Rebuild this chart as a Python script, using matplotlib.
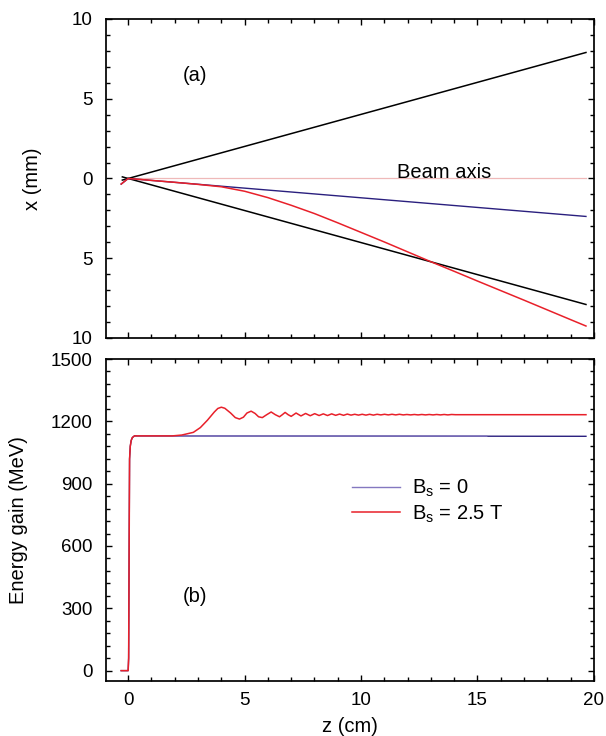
import matplotlib
matplotlib.use("Agg")
import matplotlib.pyplot as plt
from matplotlib.ticker import MultipleLocator

plt.rcParams['font.family'] = ['Liberation Sans', 'DejaVu Sans']
plt.rcParams['mathtext.fontset'] = 'custom'
plt.rcParams['mathtext.rm'] = 'Liberation Sans'
plt.rcParams['font.size'] = 14.5

# ---- panel (a): trajectories x(z) ----
z_black = [-0.25, 19.66]
x_black_up = [-0.10, 7.90]
x_black_dn = [0.10, -7.90]

z_blue_a = [-0.30, 0.0, 19.66]
x_blue_a = [-0.35, 0.0, -2.38]

z_red_a = [-0.30, 0.0, 1.0, 2.0, 3.0, 4.0, 5.0, 6.0, 7.0, 8.0, 9.0, 10.0,
           11.0, 12.0, 13.0, 14.0, 15.0, 16.0, 17.0, 18.0, 19.0, 19.66]
x_red_a = [-0.35, 0.0, -0.12, -0.24, -0.37, -0.52, -0.80, -1.20, -1.68, -2.20,
           -2.78, -3.38, -3.98, -4.60, -5.22, -5.82, -6.43, -7.03, -7.63,
           -8.24, -8.85, -9.25]

z_axis = [0.0, 19.66]
x_axis = [0.0, 0.0]

x_ticks_a = [-10, -5, 0, 5, 10]
x_ticklabels_a = ['10', '5', '0', '5', '10']

# ---- panel (b): energy gain ----
z_blue_b = [-0.30, 0.0, 0.02, 0.04, 0.06, 0.09, 0.13, 0.18, 0.27, 0.40, 19.66]
E_blue_b = [0, 0, 60, 550, 1019, 1080, 1108, 1122, 1130, 1130, 1128]

# lighter trace lying on top of the Bs = 0 curve up to z ~ 15.4
z_lilac_b = [0.40, 15.40]
E_lilac_b = [1130, 1129]

z_red_b = [-0.30, 0.0, 0.02, 0.04, 0.06, 0.09, 0.13, 0.18, 0.27, 0.40,
           1.90, 2.30, 2.80, 3.10, 3.40, 3.70, 3.85, 4.00, 4.15, 4.40, 4.60,
           4.78, 4.95, 5.10, 5.28, 5.45, 5.60, 5.76, 5.95, 6.14, 6.32, 6.50,
           6.62, 6.74, 6.87, 7.00, 7.21, 7.42, 7.62, 7.82, 8.01, 8.20, 8.38,
           8.56, 8.74, 8.91, 9.08, 9.25, 9.41, 9.57, 9.73, 9.89, 10.05, 10.21,
           10.37, 10.53, 10.69, 10.85, 11.01, 11.17, 11.33, 11.49, 11.65,
           11.81, 11.97, 12.13, 12.29, 12.45, 12.61, 12.77, 12.93, 13.09,
           13.25, 13.41, 13.57, 13.73, 13.89, 14.05, 14.5, 19.66]
E_red_b = [0, 0, 60, 550, 1019, 1080, 1108, 1122, 1130, 1130,
           1130, 1134, 1147, 1170, 1205, 1245, 1262, 1268, 1263, 1240, 1218,
           1211, 1220, 1240, 1249, 1238, 1222, 1218, 1232, 1245, 1232, 1222,
           1232, 1243, 1232, 1224, 1240, 1226, 1238, 1227, 1237, 1228, 1236,
           1228, 1236, 1229, 1235, 1229, 1235, 1230, 1234, 1230, 1234, 1230,
           1234, 1230, 1234, 1231, 1234, 1231, 1234, 1231, 1234,
           1231, 1233, 1231, 1233, 1231, 1233, 1231, 1233, 1231,
           1233, 1231, 1233, 1231, 1233, 1232, 1232, 1232]

legend_labels = [r'B$_\mathregular{s}$ = 0', r'B$_\mathregular{s}$ = 2.5 T']

RED = '#e8202a'
NAVY = '#2a1f7e'
LILAC = '#8478c0'
PINK = '#efb9b9'

fig = plt.figure(figsize=(6.06, 7.36), dpi=100)
ax_a = fig.add_axes([0.175, 0.5408, 0.805, 0.4334])
ax_b = fig.add_axes([0.175, 0.0747, 0.805, 0.4375])

for ax in (ax_a, ax_b):
    ax.set_xlim(-0.95, 20)
    ax.xaxis.set_major_locator(MultipleLocator(5))
    ax.xaxis.set_minor_locator(MultipleLocator(1))
    ax.tick_params(which='both', direction='in', top=True, right=True,
                   width=1.0, labelsize=13.5)
    ax.tick_params(which='major', length=4.3)
    ax.tick_params(which='minor', length=2.9)
    ax.tick_params(axis='x', pad=8)
    ax.tick_params(axis='y', pad=9.5)
    for s in ax.spines.values():
        s.set_linewidth(1.25)

# panel (a)
ax_a.plot(z_axis, x_axis, color=PINK, lw=0.9)
ax_a.plot(z_black, x_black_up, color='black', lw=1.1)
ax_a.plot(z_black, x_black_dn, color='black', lw=1.1)
ax_a.plot(z_blue_a, x_blue_a, color=NAVY, lw=1.0)
ax_a.plot(z_red_a, x_red_a, color=RED, lw=1.1)
ax_a.set_ylim(-10, 10)
ax_a.set_yticks(x_ticks_a)
ax_a.set_yticklabels(x_ticklabels_a)
ax_a.yaxis.set_minor_locator(MultipleLocator(1))
ax_a.tick_params(labelbottom=False)
ax_a.set_ylabel('x (mm)')
ax_a.yaxis.set_label_coords(-0.131, 0.5)
ax_a.text(2.86, 6.44, '(a)', ha='center', va='center')
ax_a.text(13.55, 0.0, 'Beam axis', ha='center', va='baseline')

# panel (b)
ax_b.plot(z_blue_b, E_blue_b, color=NAVY, lw=1.0, label=legend_labels[0])
ax_b.plot(z_lilac_b, E_lilac_b, color=LILAC, lw=1.0)
ax_b.plot(z_red_b, E_red_b, color=RED, lw=1.1, label=legend_labels[1])
ax_b.set_ylim(-50, 1500)
ax_b.yaxis.set_major_locator(MultipleLocator(300))
ax_b.yaxis.set_minor_locator(MultipleLocator(60))
ax_b.set_ylabel('Energy gain (MeV)')
ax_b.yaxis.set_label_coords(-0.16, 0.5)
ax_b.set_xlabel('z (cm)')
ax_b.xaxis.set_label_coords(0.5, -0.112)
ax_b.text(2.86, 357, '(b)', ha='center', va='center')

leg = ax_b.legend(loc='upper left', bbox_to_anchor=(0.504, 0.630),
                  frameon=False, handlelength=2.4, handletextpad=0.6,
                  labelspacing=0.2, borderpad=0, borderaxespad=0)
leg.get_lines()[0].set_color(LILAC)

fig.savefig('out.png', dpi=100, facecolor='white')
